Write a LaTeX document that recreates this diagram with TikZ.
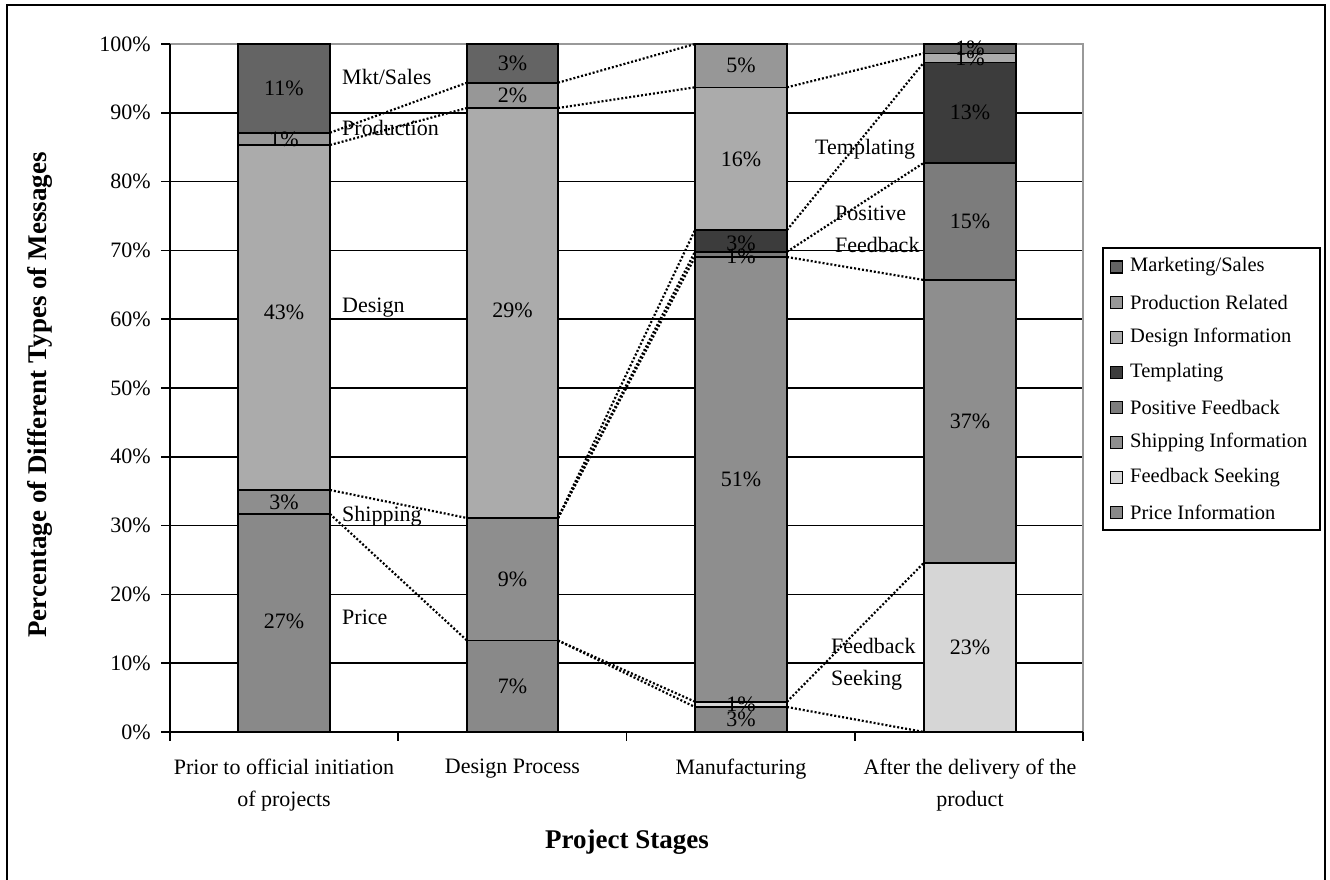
\documentclass[tikz,border=0pt]{standalone}
\usepackage{fontspec}
\setmainfont{Liberation Serif}
\definecolor{cMkt}{HTML}{646464}
\definecolor{cProd}{HTML}{979797}
\definecolor{cDes}{HTML}{ABABAB}
\definecolor{cTemp}{HTML}{3C3C3C}
\definecolor{cPF}{HTML}{7C7C7C}
\definecolor{cShip}{HTML}{8E8E8E}
\definecolor{cFS}{HTML}{D6D6D6}
\definecolor{cPrice}{HTML}{898989}
\begin{document}
\begin{tikzpicture}[x=1pt,y=-1pt,
  gridline/.style={line width=1.6pt},
  plotedge/.style={line width=1.4pt,draw=black!40},
  segbox/.style={draw=black,line width=1.6pt},
  serline/.style={line width=2.2pt,dash pattern=on 2pt off 2pt},
  txt/.style={font=\fontsize{22}{32}\selectfont,inner sep=0pt},
  ttl/.style={font=\fontsize{27}{32}\selectfont\bfseries,inner sep=0pt},
  legsq/.style={draw=black,line width=1.2pt,minimum size=12pt,inner sep=0pt}]
\useasboundingbox (0,0) rectangle (1330,879);
% outer frame (its lower edge lies below the page)
\draw[line width=2pt] (7,5) rectangle (1325,900);

% horizontal grid lines (10% .. 90%)
\foreach \k in {1,...,9}
  \draw[gridline] (170,{732-68.8*\k}) -- (1083,{732-68.8*\k});
% plot area edge
\draw[plotedge] (170,44) -- (1083,44) -- (1083,732);

% y axis with ticks and labels
\draw[line width=1.6pt] (170,44) -- (170,732);
\foreach \k in {0,...,10}{
  \draw[line width=1.6pt] (161,{732-68.8*\k}) -- (170,{732-68.8*\k});
  \pgfmathtruncatemacro{\pc}{10*\k}
  \node[txt,anchor=east] (ytick\k) at (151,{732-68.8*\k}) {\pc\%};
}
% x axis with category ticks
\draw[line width=1.6pt] (170,732) -- (1083,732);
\foreach \x in {170,398.25,626.5,854.75,1083}
  \draw[line width=1.6pt] (\x,732) -- (\x,741);

% bar 1: prior to official initiation of projects
\filldraw[segbox,fill=cPrice] (238,514) rectangle (330,732);
\filldraw[segbox,fill=cShip]  (238,490) rectangle (330,514);
\filldraw[segbox,fill=cDes]   (238,145) rectangle (330,490);
\filldraw[segbox,fill=cProd]  (238,132.7) rectangle (330,145);
\filldraw[segbox,fill=cMkt]   (238,44) rectangle (330,132.7);
% bar 2: design process
\filldraw[segbox,fill=cPrice] (467,640.5) rectangle (558,732);
\filldraw[segbox,fill=cShip]  (467,518) rectangle (558,640.5);
\filldraw[segbox,fill=cDes]   (467,108) rectangle (558,518);
\filldraw[segbox,fill=cProd]  (467,82.7) rectangle (558,108);
\filldraw[segbox,fill=cMkt]   (467,44) rectangle (558,82.7);
% bar 3: manufacturing
\filldraw[segbox,fill=cPrice] (695,707) rectangle (787,732);
\filldraw[segbox,fill=cFS]    (695,701.7) rectangle (787,707);
\filldraw[segbox,fill=cShip]  (695,257) rectangle (787,701.7);
\filldraw[segbox,fill=cPF]    (695,251.7) rectangle (787,257);
\filldraw[segbox,fill=cTemp]  (695,230) rectangle (787,251.7);
\filldraw[segbox,fill=cDes]   (695,87.3) rectangle (787,230);
\filldraw[segbox,fill=cProd]  (695,44) rectangle (787,87.3);
% bar 4: after the delivery of the product
\filldraw[segbox,fill=cFS]    (924,562.7) rectangle (1016,732);
\filldraw[segbox,fill=cShip]  (924,280) rectangle (1016,562.7);
\filldraw[segbox,fill=cPF]    (924,162.7) rectangle (1016,280);
\filldraw[segbox,fill=cTemp]  (924,62.3) rectangle (1016,162.7);
\filldraw[segbox,fill=cDes]   (924,53.3) rectangle (1016,62.3);
\filldraw[segbox,fill=cMkt]   (924,44) rectangle (1016,53.3);

% series boundary points on the bar edges
\coordinate (aProd) at (330,132.7);  \coordinate (bProdL) at (467,82.7);
\coordinate (aDes)  at (330,145);    \coordinate (bDesL)  at (467,108);
\coordinate (aShip) at (330,490);    \coordinate (bShipL) at (467,518);
\coordinate (aPrice) at (330,514);   \coordinate (bPriceL) at (467,640.5);
\coordinate (bProdR) at (558,82.7);  \coordinate (cProdL) at (695,44);
\coordinate (bDesR)  at (558,108);   \coordinate (cDesL)  at (695,87.3);
\coordinate (bShipR) at (558,518);
\coordinate (cTempL) at (695,230);   \coordinate (cPFL) at (695,251.7);
\coordinate (cShipL) at (695,257);
\coordinate (bPriceR) at (558,640.5);
\coordinate (cFSL) at (695,701.7);   \coordinate (cPriceL) at (695,707);
\coordinate (cDesR) at (787,87.3);   \coordinate (dDes) at (924,53.3);
\coordinate (cTempR) at (787,230);   \coordinate (dTemp) at (924,62.3);
\coordinate (cPFR) at (787,251.7);   \coordinate (dPF) at (924,162.7);
\coordinate (cShipR) at (787,257);   \coordinate (dShip) at (924,280);
\coordinate (cFSR) at (787,701.7);   \coordinate (dFS) at (924,562.7);
\coordinate (cPriceR) at (787,707);  \coordinate (dPrice) at (924,732);

% series lines
\draw[serline] (aProd) -- (bProdL);
\draw[serline] (aDes) -- (bDesL);
\draw[serline] (aShip) -- (bShipL);
\draw[serline] (aPrice) -- (bPriceL);
\draw[serline] (bProdR) -- (cProdL);
\draw[serline] (bDesR) -- (cDesL);
\draw[serline] (bShipR) -- (cTempL);
\draw[serline] (bShipR) -- (cPFL);
\draw[serline] (bShipR) -- (cShipL);
\draw[serline] (bPriceR) -- (cFSL);
\draw[serline] (bPriceR) -- (cPriceL);
\draw[serline] (cDesR) -- (dDes);
\draw[serline] (cTempR) -- (dTemp);
\draw[serline] (cPFR) -- (dPF);
\draw[serline] (cShipR) -- (dShip);
\draw[serline] (cFSR) -- (dFS);
\draw[serline] (cPriceR) -- (dPrice);

% value labels
\node[txt] (v11) at (284,621) {27\%};
\node[txt] (v12) at (284,502) {3\%};
\node[txt] (v13) at (284,312) {43\%};
\node[txt] (v14) at (284,139) {1\%};
\node[txt] (v15) at (284,88) {11\%};
\node[txt] (v21) at (512.5,686) {7\%};
\node[txt] (v22) at (512.5,579) {9\%};
\node[txt] (v23) at (512.5,310) {29\%};
\node[txt] (v24) at (512.5,95) {2\%};
\node[txt] (v25) at (512.5,63) {3\%};
\node[txt] (v31) at (741,719) {3\%};
\node[txt] (v32) at (741,704) {1\%};
\node[txt] (v33) at (741,479) {51\%};
\node[txt] (v34) at (741,256) {1\%};
\node[txt] (v35) at (741,243) {3\%};
\node[txt] (v36) at (741,159) {16\%};
\node[txt] (v37) at (741,65.5) {5\%};
\node[txt] (v41) at (970,647) {23\%};
\node[txt] (v42) at (970,421) {37\%};
\node[txt] (v43) at (970,221) {15\%};
\node[txt] (v44) at (970,112) {13\%};
\node[txt] (v45) at (970,58) {1\%};
\node[txt] (v46) at (970,48) {1\%};

% series names written beside the bars
\node[txt,anchor=west] (nMkt)  at (342,77) {Mkt/Sales};
\node[txt,anchor=west] (nProd) at (342,128) {Production};
\node[txt,anchor=west] (nDes)  at (342,308) {Design};
\node[txt,anchor=west] (nShip) at (342,516) {Shipping};
\node[txt,anchor=west] (nPrice) at (342,617) {Price};
\node[txt,anchor=west] (nTemp) at (815,149) {Templating};
\node[txt,anchor=west,align=left] (nPF) at (835,229) {Positive\\Feedback};
\node[txt,anchor=west,align=left] (nFS) at (831,664) {Feedback\\Seeking};

% category labels
\node[txt,align=center] (k1) at (284,785) {Prior to official initiation\\of projects};
\node[txt] (k2) at (512.5,769) {Design Process};
\node[txt] (k3) at (741,769) {Manufacturing};
\node[txt,align=center] (k4) at (970,785) {After the delivery of the\\product};

% axis titles
\node[ttl] (xt) at (627,842) {Project Stages};
\node[ttl,rotate=90] (yt) at (40,395) {Percentage of Different Types of Messages};

% legend
\draw[line width=1.6pt] (1103,248) rectangle (1320,530);
\foreach \c/\t [count=\i from 0] in {cMkt/{Marketing/Sales},cProd/{Production Related},cDes/{Design Information},cTemp/{Templating},cPF/{Positive Feedback},cShip/{Shipping Information},cFS/{Feedback Seeking},cPrice/{Price Information}}{
  \node[legsq,fill=\c] (sq\i) at (1116.5,{267+35.1*\i}) {};
  \node[txt,anchor=west,font=\fontsize{20.5}{24}\selectfont] (lg\i) at (1130,{267+35.1*\i}) {\t};
}
\end{tikzpicture}
\end{document}
